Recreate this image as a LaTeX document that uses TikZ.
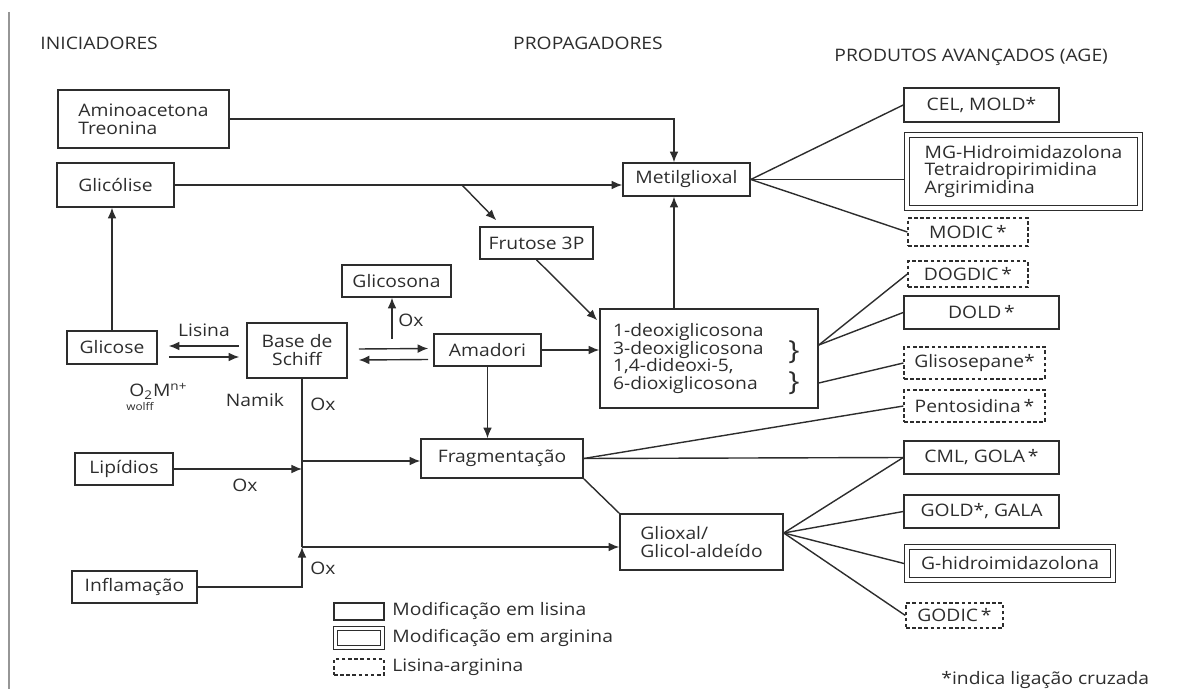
\documentclass[tikz,border=0pt]{standalone}
\usepackage{fontspec}
\setmainfont{Open Sans}[FakeStretch=1.12]
\usepackage{tikz}
\usetikzlibrary{calc,arrows.meta,positioning}
\definecolor{myink}{RGB}{45,45,45}
\definecolor{mygrey}{RGB}{150,150,150}
\tikzstyle{box}=[draw,line width=0.9pt,inner sep=2pt,align=center]
\tikzstyle{argbox}=[draw,double,line width=0.7pt,double distance=2pt,outer sep=1.7pt,inner sep=2pt,align=left]
\tikzstyle{mixbox}=[draw,line width=0.7pt,dash pattern=on 2pt off 1.5pt,inner sep=2pt,align=center]
\tikzstyle{lbl}=[inner sep=1pt]

\begin{document}
\begin{tikzpicture}[x=0.02cm,y=-0.02cm,line width=0.8pt,myink,>={Latex[length=6pt,width=5pt]},font=\fontsize{9.8}{10.2}\selectfont]
\useasboundingbox (0,0) rectangle (1198,689);
\draw[mygrey] (9,12) -- (9,689);
% headings
\draw (38,43) node [lbl,anchor=west] (hini) {INICIADORES};
\draw (588,43) node [lbl] (hprop) {PROPAGADORES};
\draw (832,57) node [lbl,anchor=west] (hage) {PRODUTOS AVANÇADOS (AGE)};
% iniciadores
\draw (143.5,119) node [box,align=left,minimum width=3.42cm,minimum height=1.16cm] (amino) {Aminoacetona\\Treonina};
\draw (115.5,185) node [box,minimum width=2.34cm,minimum height=0.88cm] (glicolise) {Glicólise};
\draw (112,347.5) node [box,minimum width=1.8cm,minimum height=0.66cm] (glicose) {Glicose};
\draw (124,469) node [box,minimum width=1.96cm,minimum height=0.64cm] (lipidios) {Lipídios};
\draw (134.5,587) node [box,minimum width=2.5cm,minimum height=0.64cm] (inflam) {Inflamação};
% propagadores
\draw (297,350.5) node [box,minimum width=2cm,minimum height=1.1cm] (schiff) {Base de\\Schiff};
\draw (396.5,281) node [box,minimum width=2.18cm,minimum height=0.64cm] (glicosona) {Glicosona};
\draw (487.5,350) node [box,minimum width=2.14cm,minimum height=0.64cm] (amadori) {Amadori};
\draw (536.5,243) node [box,minimum width=2.26cm,minimum height=0.64cm] (frutose) {Frutose 3P};
\draw (686.5,179.5) node [box,minimum width=2.54cm,minimum height=0.66cm] (metil) {Metilglioxal};
\draw (709,358.5) node [box,align=left,minimum width=4.36cm,minimum height=1.98cm,inner xsep=0.26cm,text width=3.84cm] (deoxi) {1-deoxiglicosona\\3-deoxiglicosona\\1,4-dideoxi-5,\\6-dioxiglicosona};
\draw (794,352) node [lbl,font=\fontsize{15}{15}\selectfont] (brA) {\}};
\draw (794,383) node [lbl,font=\fontsize{15}{15}\selectfont] (brB) {\}};
\draw (502,458.5) node [box,minimum width=3.24cm,minimum height=0.78cm] (frag) {Fragmentação};
\draw (701.5,542) node [box,align=left,minimum width=3.26cm,minimum height=1.12cm] (glioxal) {Glioxal/\\Glicol-aldeído};
% produtos avancados
\draw (981.5,105) node [box,minimum width=3.1cm,minimum height=0.68cm] (cel) {CEL, MOLD*};
\draw (1023.5,171.5) node [argbox,minimum width=4.66cm,minimum height=1.46cm] (mg) {MG-Hidroimidazolona\\Tetraidropirimidina\\Argirimidina};
\draw (968,232) node [mixbox,minimum width=2.4cm,minimum height=0.56cm] (modic) {MODIC\,*};
\draw (968,274) node [mixbox,minimum width=2.4cm,minimum height=0.52cm] (dogdic) {DOGDIC\,*};
\draw (981.5,312.5) node [box,minimum width=3.1cm,minimum height=0.66cm] (dold) {DOLD\,*};
\draw (974.5,363) node [mixbox,minimum width=2.82cm,minimum height=0.64cm] (glis) {Glisosepane*};
\draw (974.5,406) node [mixbox,minimum width=2.82cm,minimum height=0.64cm] (pent) {Pentosidina\,*};
\draw (981.5,457.5) node [box,minimum width=3.1cm,minimum height=0.66cm] (cml) {CML, GOLA\,*};
\draw (981.5,511.5) node [box,minimum width=3.1cm,minimum height=0.66cm] (gold) {GOLD*, GALA};
\draw (1010,563.5) node [argbox,align=center,minimum width=4.12cm,minimum height=0.66cm] (ghid) {G-hidroimidazolona};
\draw (954.5,615.5) node [mixbox,minimum width=1.94cm,minimum height=0.5cm] (godic) {GODIC\,*};
% labels
\draw (204,330) node [lbl] (lisina) {Lisina};
\draw (127,391) node [lbl,anchor=west] (o2m) {O\textsubscript{2}M\textsuperscript{n+}};
\draw (140,407) node [lbl,font=\fontsize{6}{6}\selectfont] (wolff) {wolff};
\draw (255,400) node [lbl] (namik) {Namik};
\draw (323,404) node [lbl] (oxA) {Ox};
\draw (411,320) node [lbl] (oxB) {Ox};
\draw (245,485) node [lbl] (oxC) {Ox};
\draw (323,568) node [lbl] (oxD) {Ox};
% arrows
\draw[->] (glicose.north) -- (glicose.north |- glicolise.south);
\draw[<-] ($(glicose.east)+(11,-1.5)$) -- ($(schiff.west)+(-7,-4.5)$);
\draw[->] ($(glicose.east)+(11,9.5)$) -- ($(schiff.west)+(-7,6.5)$);
\draw[->] ($(schiff.east)+(11,-1.5)$) -- ($(amadori.west)+(-5,-1.5)$);
\draw[<-] ($(schiff.east)+(11,9.5)$) -- ($(amadori.west)+(-5,9.5)$);
\coordinate (gox) at (392,339);
\draw[->] (gox) -- (gox |- glicosona.south);
\coordinate (jf) at (302,461);
\coordinate (jg) at (302,547);
\draw (schiff.south -| jg) -- (jg);
\draw[->] (lipidios.east) -- (lipidios.east -| jg);
\draw[->] (jf) -- (jf -| frag.west);
\draw[->] (inflam.east) -| (jg);
\draw[->] (jg) -- (jg -| glioxal.west);
\coordinate (mtop) at (674,120);
\draw[->] (amino.east) -- (amino.east -| mtop) -- (mtop |- metil.north);
\draw[->] (glicolise.east) -- (glicolise.east -| metil.west);
\coordinate (fb) at (462,185);
\draw[->] (fb) -- ($(frutose.north west)+(17,-6)$);
\draw[->] (frutose.south) -- ($(deoxi.north west)+(-2,12)$);
\draw[->] (mtop |- deoxi.north) -- (mtop |- metil.south);
\draw[->] (amadori.east) -- (amadori.east -| deoxi.west);
\draw[->] (amadori.south) -- (amadori.south |- frag.north);
% links to products
\draw (metil.east) -- (cel.west);
\draw (metil.east) -- (metil.east -| mg.west);
\draw (metil.east) -- (modic.west);
\coordinate (dA) at ($(deoxi.east)+(0,-13.5)$);
\coordinate (dB) at ($(deoxi.east)+(0,24.5)$);
\draw (dA) -- (dogdic.west);
\draw (dA) -- (dold.west);
\draw (dB) -- (glis.west);
\draw (frag.east) -- (pent.west);
\draw (frag.east) -- (cml.west);
\draw (frag.south east) -- (glioxal.north west);
\coordinate (gA) at ($(glioxal.east)+(0,-9)$);
\draw (gA) -- (cml.west);
\draw (gA) -- (gold.west);
\draw (gA) -- (ghid.west);
\draw (gA) -- (godic.west);
% legend
\draw (359,611.5) node [box,line width=0.7pt,minimum width=1cm,minimum height=0.34cm] (legA) {};
\draw (359,638) node [argbox,minimum width=0.94cm,minimum height=0.38cm] (legB) {};
\draw (359,667) node [mixbox,minimum width=1cm,minimum height=0.32cm] (legC) {};
\draw (390,611) node [lbl,anchor=west] (legAtxt) {Modificação em lisina};
\draw (390,638) node [lbl,anchor=west] (legBtxt) {Modificação em arginina};
\draw (390,667) node [lbl,anchor=west] (legCtxt) {Lisina-arginina};
\draw (939,680) node [lbl,anchor=west] (fnote) {*indica ligação cruzada};
\end{tikzpicture}
\end{document}
